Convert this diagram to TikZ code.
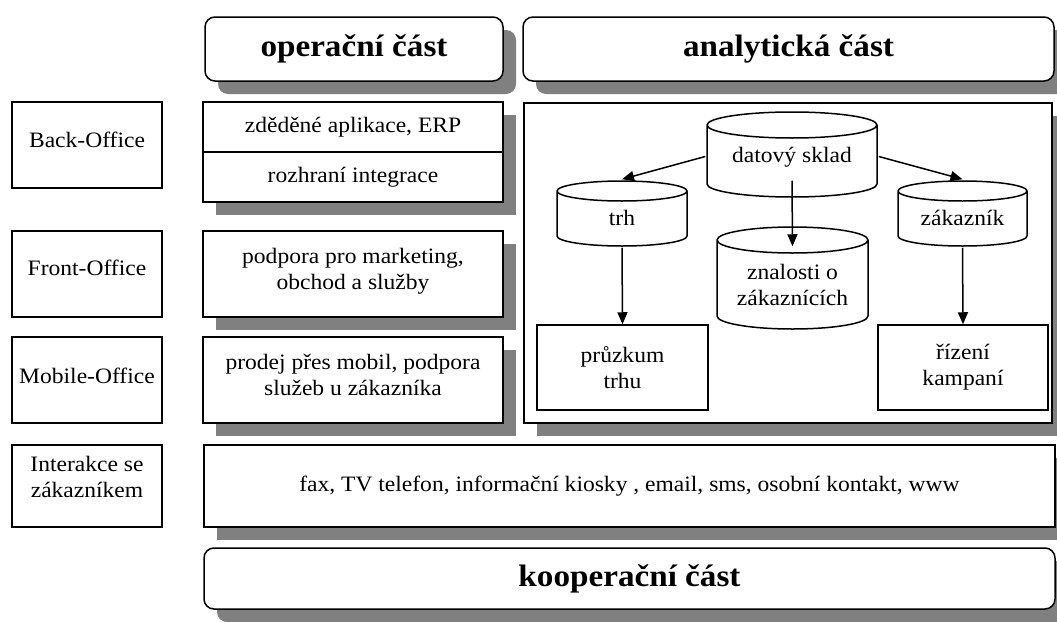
\documentclass[tikz,border=0pt]{standalone}
\usepackage{fontspec}
\setmainfont{Liberation Serif}[FakeStretch=1.07]
\usetikzlibrary{positioning,calc,shadows,arrows.meta}

\tikzset{
  txt/.style={font=\fontsize{22}{26}\selectfont, align=center},
  plain/.style={txt, draw, line width=1.5pt, fill=white, inner sep=0pt},
  shad/.style={plain, drop shadow={shadow xshift=13pt, shadow yshift=-13pt, fill=black!50, opacity=1}},
  head/.style={shad, rounded corners=10pt, font=\fontsize{31}{36}\selectfont\bfseries},
  lift/.style={text depth=#1},
  sink/.style={text height=#1},
  db/.style={txt, inner sep=0pt, path picture={
    \draw[fill=white, line width=1.5pt]
      let \p1=(path picture bounding box.north west), \p2=(path picture bounding box.south east),
          \n1={(\x2-\x1)/2-1pt} in
      ({\x1+1pt},{\y1-1pt-#1}) -- ({\x1+1pt},{\y2+1pt+#1})
        arc[start angle=180, end angle=360, x radius=\n1, y radius=#1]
        -- ({\x2-1pt},{\y1-1pt-#1})
        arc[start angle=0, end angle=180, x radius=\n1, y radius=#1] -- cycle
      ({\x1+1pt},{\y1-1pt-#1})
        arc[start angle=180, end angle=360, x radius=\n1, y radius=#1];
  }},
}

\begin{document}
\begin{tikzpicture}[x=1pt,y=-1pt,line width=1.5pt,>={Triangle[length=12pt,width=10pt]}]
  \useasboundingbox (0,0) rectangle (1057,621);

  % hlavicky
  \node[head, minimum width=298pt, minimum height=64pt] (oper) at (354,49) {operační část};
  \node[head, minimum width=531pt, minimum height=64pt] (anal) at (788.5,49) {analytická část};

  % urovne vlevo
  \node[plain, lift=10pt, minimum width=150pt, minimum height=86pt] (back) at (87,145) {Back-Office};
  \node[plain, lift=13pt, minimum width=150pt, minimum height=86pt] (front) at (87,274) {Front-Office};
  \node[plain, lift=9pt, minimum width=150pt, minimum height=86pt] (mobile) at (87,380) {Mobile-Office};
  \node[plain, lift=18pt, minimum width=150pt, minimum height=82pt] (inter) at (87,486) {Interakce se\\zákazníkem};

  % operacni cast
  \node[shad, minimum width=300pt, minimum height=50pt] (erp) at (353,127) {zděděné aplikace, ERP};
  \node[shad, minimum width=300pt, minimum height=50pt] (integ) at (353,177) {rozhraní integrace};
  \node[shad, lift=10pt, minimum width=300pt, minimum height=86pt] (podpora) at (353,274) {podpora pro marketing,\\obchod a služby};
  \node[shad, lift=10pt, minimum width=300pt, minimum height=86pt] (prodej) at (353,380) {prodej přes mobil, podpora\\služeb u zákazníka};

  % analyticka cast
  \node[shad, minimum width=528pt, minimum height=320pt] (ramec) at (788,263) {};
  \node[db=13pt, sink=20pt, minimum width=172pt, minimum height=87pt] (sklad) at (792,154.5) {datový sklad};
  \node[db=10pt, sink=24pt, minimum width=132pt, minimum height=67pt] (trh) at (622,213.5) {trh};
  \node[db=10pt, sink=24pt, minimum width=131pt, minimum height=67pt] (zak) at (962.5,213.5) {zákazník};
  \node[db=13pt, sink=55pt, minimum width=153pt, minimum height=104pt] (znal) at (792.5,278) {znalosti o\\zákaznících};
  \node[plain, minimum width=171pt, minimum height=85pt] (pruzkum) at (622.5,367.5) {průzkum\\trhu};
  \node[plain, minimum width=170pt, minimum height=85pt] (rizeni) at (963,367.5) {řízení\\kampaní};

  \draw[->] ([yshift=-2pt]sklad.west) -- (trh.north);
  \draw[->] ([yshift=-2pt]sklad.east) -- (zak.north);
  \draw[->] ([yshift=18pt]sklad.south) -- ([yshift=-21pt]znal.north);
  \draw[->] (trh.south) -- (pruzkum.north);
  \draw[->] (zak.south) -- (rizeni.north);

  % kanaly a kooperace
  \node[shad, minimum width=851pt, minimum height=82pt] (kanaly) at (629.5,486) {fax, TV telefon, informační kiosky , email, sms, osobní kontakt, www};
  \node[head, minimum width=851pt, minimum height=61pt] (koop) at (629.5,578.5) {kooperační část};
\end{tikzpicture}
\end{document}
